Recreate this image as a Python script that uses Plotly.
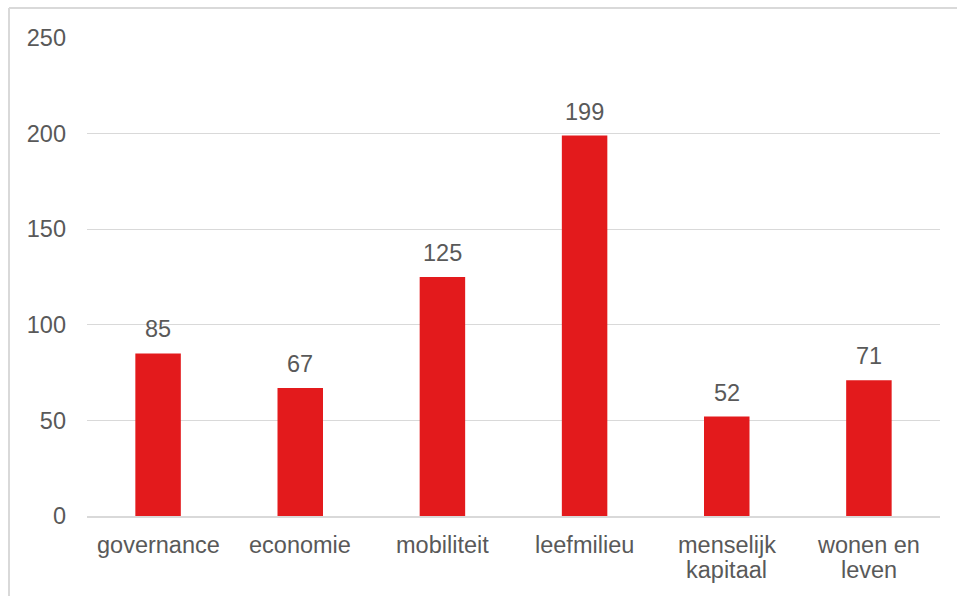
import plotly.graph_objects as go

# Number of items per theme
categories = ["governance", "economie", "mobiliteit", "leefmilieu",
              "menselijk kapitaal", "wonen en leven"]
category_lines = [["governance"], ["economie"], ["mobiliteit"], ["leefmilieu"],
                  ["menselijk", "kapitaal"], ["wonen en", "leven"]]
values = [85, 67, 125, 199, 52, 71]
y_ticks = [0, 50, 100, 150, 200, 250]

BAR_RED = "#E31A1C"
TEXT_GREY = "#595959"
GRID_GREY = "#D9D9D9"
FONT = "Liberation Sans, Arial, sans-serif"
FS = 23.5
LINE_GAP = 25

W, H = 957, 596
ML, MR, MT, MB = 87, 17, 38, 80
plot_w = W - ML - MR
plot_h = H - MT - MB


def px_x(px):
    return (px - ML) / plot_w


def px_y(py):
    return (H - MB - py) / plot_h


fig = go.Figure(
    go.Bar(
        x=categories,
        y=values,
        marker=dict(color=BAR_RED, line=dict(width=0)),
        hoverinfo="x+y",
    )
)

# Value labels above each bar
for cat, val in zip(categories, values):
    fig.add_annotation(
        x=cat, y=val, text=str(val), showarrow=False,
        yanchor="bottom", yshift=9,
        font=dict(family=FONT, size=FS, color=TEXT_GREY),
    )

# Category labels below the axis, one annotation per text line
for cat, lines in zip(categories, category_lines):
    for i, line in enumerate(lines):
        fig.add_annotation(
            x=cat, y=0, text=line, showarrow=False,
            yanchor="top", yshift=-14 - i * LINE_GAP,
            font=dict(family=FONT, size=FS, color=TEXT_GREY),
        )

# Outer frame (top and left edges visible)
fig.add_shape(type="line", xref="paper", yref="paper",
              x0=px_x(9), x1=px_x(970), y0=px_y(8), y1=px_y(8),
              line=dict(color=GRID_GREY, width=2))
fig.add_shape(type="line", xref="paper", yref="paper",
              x0=px_x(9), x1=px_x(9), y0=px_y(8), y1=px_y(620),
              line=dict(color=GRID_GREY, width=2))

fig.update_layout(
    width=W, height=H,
    margin=dict(l=ML, r=MR, t=MT, b=MB),
    paper_bgcolor="white", plot_bgcolor="white",
    bargap=0.68,
    showlegend=False,
    font=dict(family=FONT, size=FS, color=TEXT_GREY),
    xaxis=dict(
        showgrid=False, showline=True, linecolor=GRID_GREY, linewidth=1.5,
        ticks="", showticklabels=False, automargin=False,
    ),
    yaxis=dict(
        range=[0, 250], tickvals=y_ticks,
        showgrid=True, gridcolor=GRID_GREY, gridwidth=1.3,
        zeroline=False, showline=False, ticks="", automargin=False,
        ticklabelstandoff=20,
        tickfont=dict(family=FONT, size=FS, color=TEXT_GREY),
    ),
)

fig.write_html("out.html")
